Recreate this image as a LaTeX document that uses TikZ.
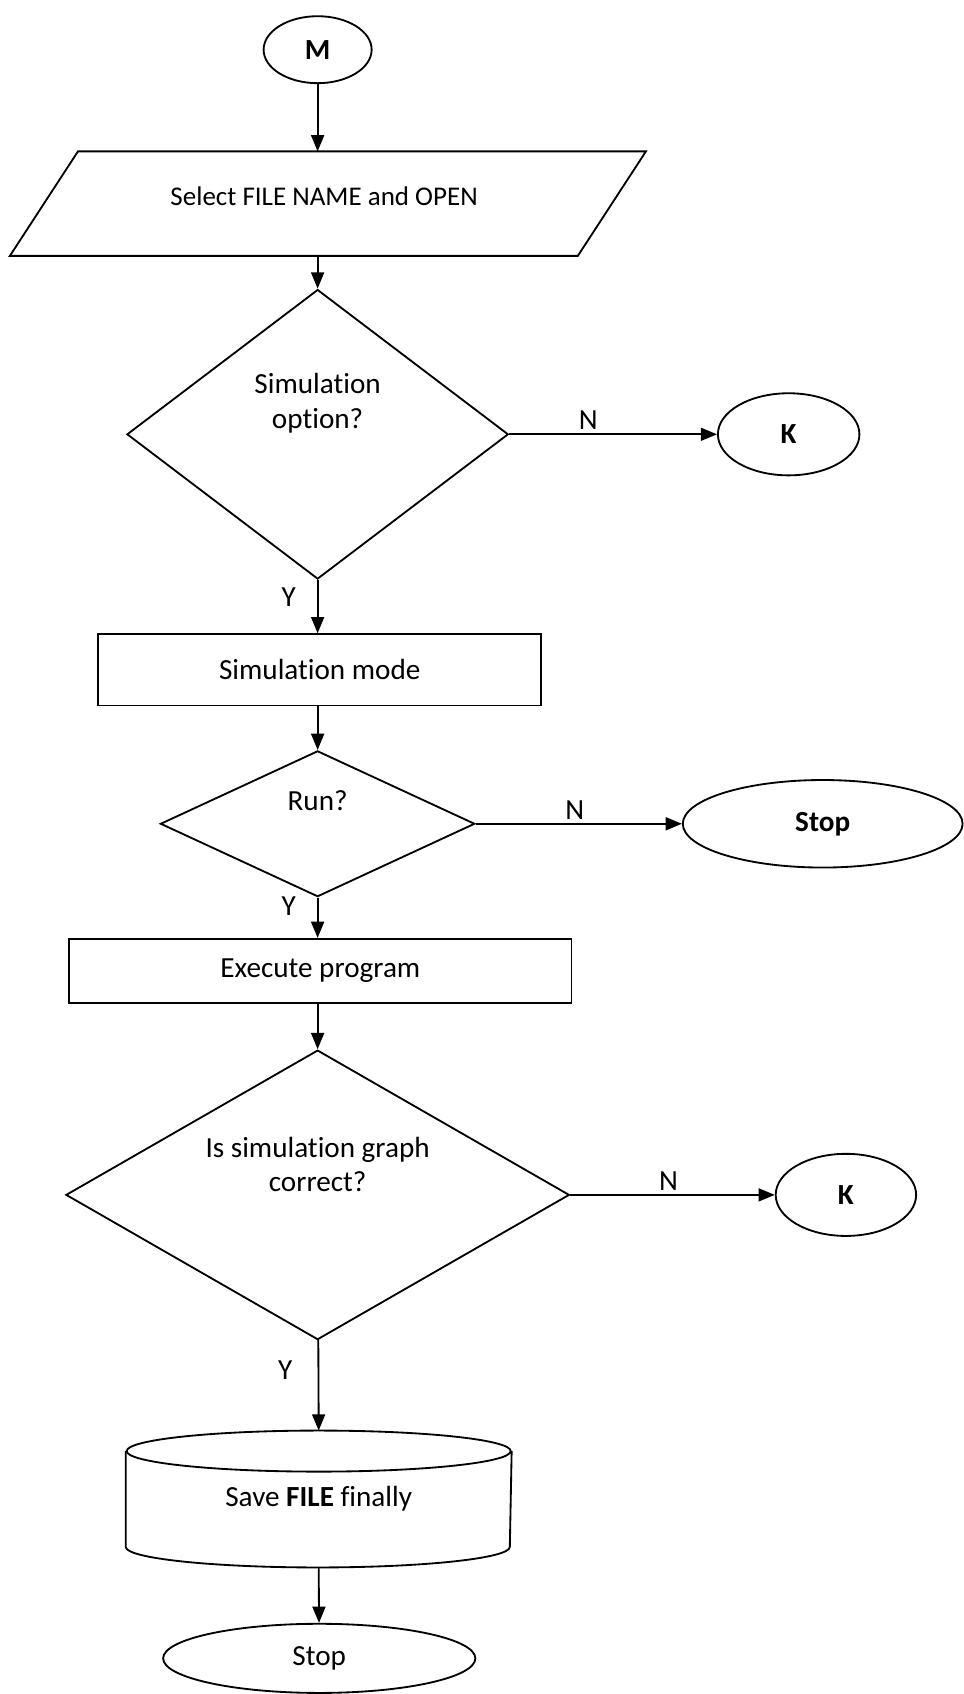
\documentclass[tikz,border=0pt]{standalone}
\usepackage{fontspec}
\setmainfont{Carlito}[Ligatures=NoCommon]
\usetikzlibrary{shapes.geometric,arrows.meta}

\begin{document}
\begin{tikzpicture}[x=1pt,y=-1pt,line width=1.7pt,
  every node/.style={font=\fontsize{27}{32}\selectfont,align=center},
  term/.style={draw,ellipse,inner sep=0pt},
  proc/.style={draw,rectangle,inner sep=0pt},
  decide/.style={draw,diamond,inner sep=0pt},
  flow/.style={-{Triangle[length=15pt,width=12pt]}}]
\useasboundingbox (0,0) rectangle (892,1568);

\node[term,minimum width=100,minimum height=62] (m) at (294,46) {\textbf{M}};
% input box
\node[minimum width=587,minimum height=95,inner sep=0pt] (sel) at (303.5,188.5) {};
\draw ([xshift=63pt]sel.north west) -- (sel.north east) -- ([xshift=-63pt]sel.south east) -- (sel.south west) -- cycle;
\node[font=\fontsize{25}{30}\selectfont] (seltext) at (300,182) {Select FILE NAME and OPEN};

\node[decide,minimum width=353,minimum height=268] (opt) at (294,402) {};
\node (opttext) at (294,373) {Simulation\\option?};
\node[term,minimum width=131,minimum height=76] (k1) at (730,402) {\textbf{K}};

\node[proc,minimum width=410,minimum height=66] (mode) at (296,620) {Simulation mode};

\node[decide,minimum width=291,minimum height=135] (run) at (294,762.5) {};
\node (runtext) at (294,741) {Run?};
\node[term,minimum width=259,minimum height=81] (stop1) at (761.5,762.5) {\textbf{Stop}};

\node[proc,minimum width=465,minimum height=59] (exec) at (296.5,898.5) {Execute program};

\node[decide,minimum width=466,minimum height=268] (graph) at (294,1106) {};
\node (graphtext) at (294,1078) {Is simulation graph\\correct?};
\node[term,minimum width=130,minimum height=76] (k2) at (783,1106) {\textbf{K}};

% disk
\node[minimum width=355.5,minimum height=87,inner sep=0pt] (save) at (295,1387.5) {Save \textbf{FILE} finally};
\draw (save.north) ellipse [x radius=177.75pt,y radius=19pt];
\draw (save.north west) -- (save.south west) arc [start angle=180,end angle=360,x radius=177.75pt,y radius=19pt] -- (save.north east);
\coordinate (savetop) at ([yshift=19pt]save.north);
\coordinate (savebot) at ([yshift=-19pt]save.south);

\node[term,minimum width=289,minimum height=64] (stop2) at (295.5,1535) {Stop};

\draw[flow] (m) -- (m.south |- sel.north);
\draw[flow] (sel.south -| m) -- (opt);
\draw[flow] (opt) -- (k1) node[pos=0.38,above] {N};
\draw[flow] (opt) -- (opt.south |- mode.north) node[pos=0.33,left=16pt] {Y};
\draw[flow] (opt.south |- mode.south) -- (run);
\draw[flow] (run) -- (stop1) node[pos=0.48,above] {N};
\draw[flow] (run) -- (run.south |- exec.north) node[pos=0.2,left=16pt] {Y};
\draw[flow] (run.south |- exec.south) -- (graph);
\draw[flow] (graph) -- (k2) node[pos=0.48,above] {N};
\draw[flow] (graph) -- (savetop) node[pos=0.33,left=20pt] {Y};
\draw[flow] (savebot) -- (stop2);
\end{tikzpicture}
\end{document}
